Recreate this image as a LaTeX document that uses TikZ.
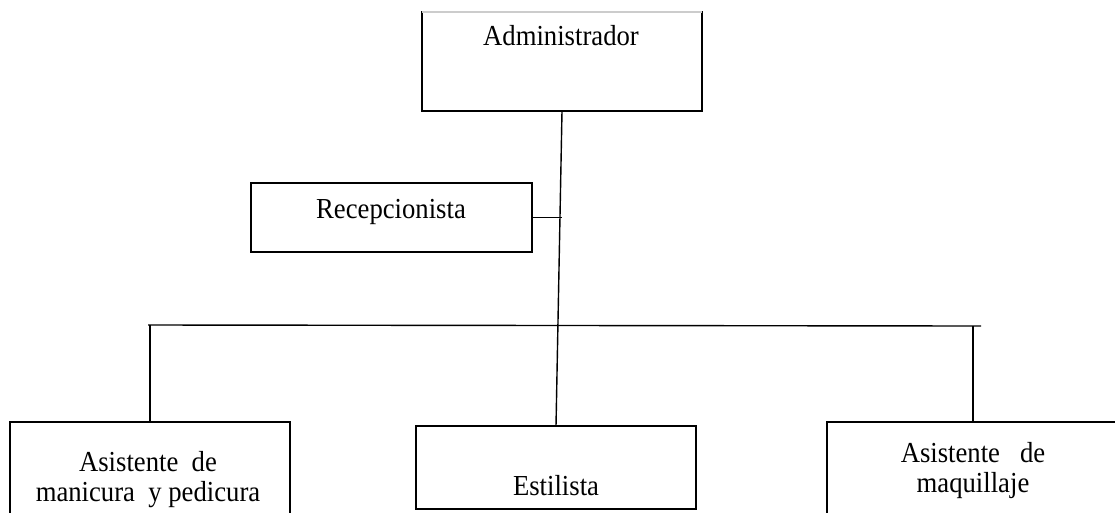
\documentclass[tikz,border=0pt]{standalone}
\usepackage{fontspec}
\setmainfont{Liberation Serif}[FakeStretch=0.92]
\usetikzlibrary{positioning}

\begin{document}
\begin{tikzpicture}[x=1pt,y=-1pt]
	\tikzstyle{every node}+=[inner sep=0pt, outer sep=0pt]
	\tikzstyle{puesto}=[draw, line width=1.5pt, anchor=north west, minimum width=280pt]
	\tikzstyle{rotulo}=[font=\fontsize{29}{30}\selectfont, align=center]
	\tikzstyle{enlace}=[line width=1.4pt]
	\useasboundingbox (0,0) rectangle (1115,512);
	\fill [white] (0,0) rectangle (1115,512);
	\clip (0,0) rectangle (1115,512);
	% cajas
	\node [puesto, minimum height=99pt] (admin) at (422,12) {};
	\draw [gray!40, line width=1.5pt] (admin.north west) -- (admin.north east);
	\node [puesto, minimum height=69pt, minimum width=281pt] (recep) at (251,183) {};
	\node [puesto, minimum height=110pt] (manic) at (10,422) {};
	\node [puesto, minimum height=83pt] (estil) at (416,426) {};
	\node [puesto, minimum height=110pt, minimum width=292pt] (maqui) at (827,422) {};
	% textos
	\node [rotulo, anchor=base] (tadmin) at (561,45) {Administrador};
	\node [rotulo, anchor=base] (trecep) at (391,218) {Recepcionista};
	\node [rotulo] (tmanic) at (148,480) {Asistente\ \ de\\manicura\ \ y pedicura};
	\node [rotulo, anchor=base] (testil) at (556,495) {Estilista};
	\node [rotulo] (tmaqui) at (973,471) {Asistente\ \ \ de\\maquillaje};
	% barra
	\coordinate (barraI) at (148,325);
	\coordinate (barraD) at (981,326);
	\draw [enlace] (barraI) -- (barraD);
	% enlaces
	\draw [enlace] (admin.south) -- (estil.north);
	\draw [enlace] (recep.east) -- (recep.east -| admin.south);
	\draw [enlace] (manic.north |- barraI) -- (manic.north);
	\draw [enlace] (maqui.north |- barraD) -- (maqui.north);
\end{tikzpicture}
\end{document}
